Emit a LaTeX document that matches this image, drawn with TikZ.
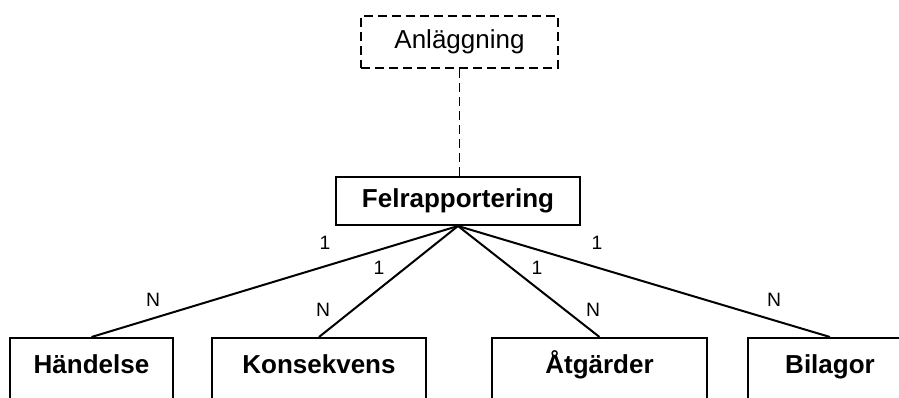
\documentclass[tikz,border=0pt]{standalone}
\usepackage{fontspec}
\setmainfont{Liberation Sans}
\begin{document}
\begin{tikzpicture}[x=0.75pt,y=-0.75pt,
  ent/.style={draw,line width=1.5pt,inner xsep=0pt,inner ysep=0pt,font=\fontsize{19.5}{22}\selectfont\bfseries},
  entlow/.style={ent,anchor=north,text height=26.25pt,text depth=45pt},
  lbl/.style={inner sep=0pt,font=\fontsize{14.5}{16}\selectfont},
  rel/.style={line width=1.5pt}]
\useasboundingbox (0,0) rectangle (899,397);
\clip (0,0) rectangle (899,397);
\node[draw,dash pattern=on 6.5pt off 4pt,line width=1.4pt,minimum width=197*0.75pt,minimum height=52*0.75pt,inner sep=0pt,font=\fontsize{19.5}{22}\selectfont] (anl) at (459.5,42) {Anläggning};
\node[ent,minimum width=244*0.75pt,minimum height=48*0.75pt] (fel) at (458,201) {Felrapportering};
\node[entlow,minimum width=163*0.75pt] (han) at (91.5,337) {Händelse};
\node[entlow,minimum width=214*0.75pt] (kon) at (319,337) {Konsekvens};
\node[entlow,minimum width=215*0.75pt] (atg) at (599.5,337) {Åtgärder};
\node[entlow,minimum width=164*0.75pt] (bil) at (830,337) {Bilagor};
\draw[dash pattern=on 6.5pt off 4pt,line width=1.4pt] (anl.south) -- (anl.south |- fel.north);
\draw[rel] (fel.south) -- (han.north);
\draw[rel] (fel.south) -- (kon.north);
\draw[rel] (fel.south) -- (atg.north);
\draw[rel] (fel.south) -- (bil.north);
\node[lbl] (l1) at (325,243) {1};
\node[lbl] (l2) at (379,268) {1};
\node[lbl] (l3) at (537,268) {1};
\node[lbl] (l4) at (597,243) {1};
\node[lbl] (n1) at (153,300) {N};
\node[lbl] (n2) at (323,310) {N};
\node[lbl] (n3) at (593,310) {N};
\node[lbl] (n4) at (774,300) {N};
\end{tikzpicture}
\end{document}
